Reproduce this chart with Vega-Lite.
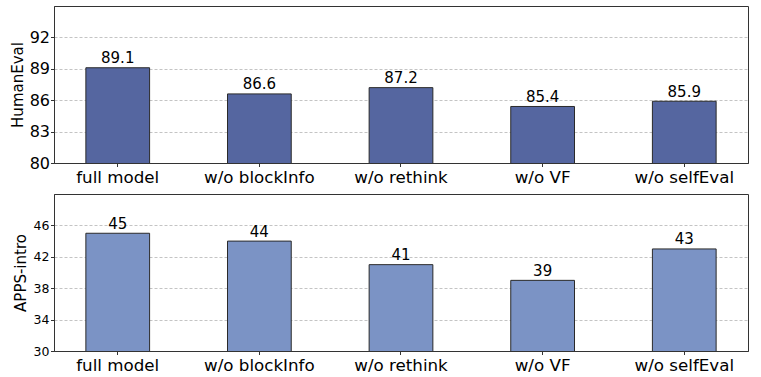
{
  "$schema": "https://vega.github.io/schema/vega-lite/v6.json",
  "padding": {"left": 9, "top": 5, "right": 5, "bottom": 5},
  "background": "white",
  "spacing": 31,
  "bounds": "flush",
  "config": {
    "font": "DejaVu Sans",
    "view": {"stroke": "#333333", "strokeWidth": 1},
    "axis": {"labelFont": "DejaVu Sans", "titleFont": "DejaVu Sans", "labelColor": "black", "titleColor": "black", "titleFontWeight": "normal", "tickColor": "#333333", "domainColor": "#333333", "domainWidth": 1, "tickSize": 3.5, "zindex": 1}
  },
  "datasets": {
    "he": [
      {"variant": "full model", "score": 89.1, "label": "89.1"},
      {"variant": "w/o blockInfo", "score": 86.6, "label": "86.6"},
      {"variant": "w/o rethink", "score": 87.2, "label": "87.2"},
      {"variant": "w/o VF", "score": 85.4, "label": "85.4"},
      {"variant": "w/o selfEval", "score": 85.9, "label": "85.9"}
    ],
    "apps": [
      {"variant": "full model", "score": 45, "label": "45"},
      {"variant": "w/o blockInfo", "score": 44, "label": "44"},
      {"variant": "w/o rethink", "score": 41, "label": "41"},
      {"variant": "w/o VF", "score": 39, "label": "39"},
      {"variant": "w/o selfEval", "score": 43, "label": "43"}
    ]
  },
  "vconcat": [
    {
      "width": 694,
      "height": 157,
      "data": {"name": "he"},
      "encoding": {
        "x": {"field": "variant", "type": "nominal", "sort": null,
          "scale": {"paddingInner": 0.55, "paddingOuter": 0.225},
          "axis": {"title": null, "labelAngle": 0, "labelFontSize": 16.7, "labelPadding": 2.5, "domain": true}},
        "y": {"field": "score", "type": "quantitative",
          "scale": {"domain": [80, 95], "zero": false, "nice": false},
          "axis": {"title": "HumanEval", "titleFontSize": 15, "titlePadding": 4, "labelFontSize": 16, "labelPadding": 1, "values": [80, 83, 86, 89, 92], "domain": true, "grid": true, "gridColor": "#b5b5b5", "gridDash": [3, 2], "gridWidth": 0.8,
            "gridOpacity": {"condition": {"test": "datum.value == 80", "value": 0}, "value": 1}}}
      },
      "layer": [
        {"mark": {"type": "bar", "clip": true, "color": "#5566a0", "stroke": "#2a2a2a", "strokeWidth": 1}},
        {"mark": {"type": "text", "baseline": "alphabetic", "dy": -4.5, "fontSize": 15, "color": "black"},
          "encoding": {"text": {"field": "label"}}}
      ]
    },
    {
      "width": 694,
      "height": 157,
      "data": {"name": "apps"},
      "encoding": {
        "x": {"field": "variant", "type": "nominal", "sort": null,
          "scale": {"paddingInner": 0.55, "paddingOuter": 0.225},
          "axis": {"title": null, "labelAngle": 0, "labelFontSize": 16.7, "labelPadding": 2.5, "domain": true}},
        "y": {"field": "score", "type": "quantitative",
          "scale": {"domain": [30, 50], "zero": false, "nice": false},
          "axis": {"title": "APPS-intro", "titleFontSize": 15, "titlePadding": 5, "labelFontSize": 12.5, "labelPadding": 1.5, "values": [30, 34, 38, 42, 46], "domain": true, "grid": true, "gridColor": "#b5b5b5", "gridDash": [3, 2], "gridWidth": 0.8,
            "gridOpacity": {"condition": {"test": "datum.value == 30", "value": 0}, "value": 1}}}
      },
      "layer": [
        {"mark": {"type": "bar", "clip": true, "color": "#7b93c5", "stroke": "#2a2a2a", "strokeWidth": 1}},
        {"mark": {"type": "text", "baseline": "alphabetic", "dy": -4.5, "fontSize": 15, "color": "black"},
          "encoding": {"text": {"field": "label"}}}
      ]
    }
  ]
}
